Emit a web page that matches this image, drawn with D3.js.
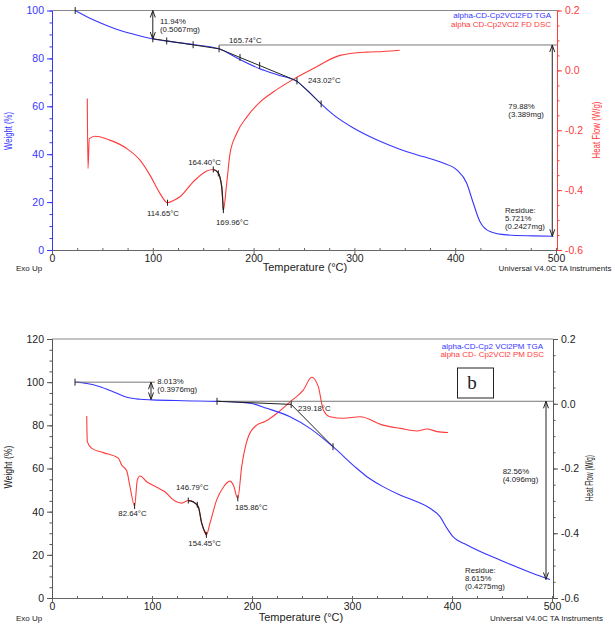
<!DOCTYPE html>
<html><head><meta charset="utf-8">
<script src="https://cdn.jsdelivr.net/npm/d3@7"></script>
<style>body{margin:0;background:#fff}svg{display:block;font-family:"Liberation Sans",Arial,sans-serif}</style>
</head><body><svg id="c" width="615" height="628"></svg>
<script>
// ---------- data ----------
const tempTicks = [0, 100, 200, 300, 400, 500];
const weightTicksA = [0, 20, 40, 60, 80, 100];
const weightTicksB = [0, 20, 40, 60, 80, 100, 120];
const heatTicks = [-0.6, -0.4, -0.2, 0.0, 0.2];

// panel a: alpha-CD-Cp2VCl2 FD
const tgaA_T = [23, 35, 47.6, 64, 81, 99.5, 113.8, 140, 165.7, 186.5, 206, 225, 242.7, 256, 265.9, 279, 299, 322, 345, 368, 388, 401.5, 411.4, 418, 424.6, 434.5, 451, 477.5, 497.5];
const tgaA_W = [100, 97.3, 94.9, 92.2, 90.1, 88.2, 87.2, 85.8, 84.0, 79.5, 75.7, 73.0, 70.4, 65.6, 61.4, 56.5, 50.9, 46.0, 42.1, 39.0, 36.3, 33.5, 27.9, 19.5, 11.8, 7.7, 6.3, 5.9, 5.72];
const dscA_T = [35, 35.7, 37, 42.7, 57.5, 74.1, 87.3, 97.2, 107.1, 114.6, 122, 127, 140.2, 153.5, 160, 164.4, 168.4, 170, 173.3, 176.6, 183.2, 193.2, 206.3, 219.5, 239.4, 259.2, 285.7, 312, 328.7, 345];
const dscA_H = [-0.094, -0.328, -0.228, -0.220, -0.233, -0.261, -0.300, -0.350, -0.411, -0.442, -0.432, -0.422, -0.372, -0.336, -0.331, -0.340, -0.389, -0.467, -0.378, -0.278, -0.211, -0.156, -0.106, -0.072, -0.030, 0.006, 0.050, 0.061, 0.063, 0.067];

// panel b: alpha-CD-Cp2VCl2 PM
const tgaB_T = [23, 35, 48, 61, 75, 88, 100, 131, 165, 198, 214.7, 238, 258, 281, 304.7, 315, 331, 348, 365, 378, 388, 395, 401, 415, 448, 481, 498];
const tgaB_W = [100, 99.4, 97.9, 95.6, 93.0, 92.1, 91.8, 91.4, 91.1, 90.2, 87.9, 84.0, 78.6, 70.1, 60.1, 56.2, 51.6, 47.7, 44.6, 41.6, 37.7, 32.3, 28.4, 24.6, 17.6, 11.4, 8.6];
const dscB_T = [34.7, 35.3, 39.7, 51.3, 66.3, 69.7, 74.7, 78, 82.6, 85.3, 88, 94.7, 104.7, 113, 121.3, 129.7, 136.3, 141.3, 146.3, 149.7, 154.4, 158, 164.7, 171.3, 178, 181.3, 185.8, 189.7, 196.3, 204.7, 213, 224.7, 238, 251.3, 259.7, 266.3, 271.3, 278, 291.3, 308, 331, 348, 365, 375, 385, 396];
const dscB_H = [-0.038, -0.117, -0.138, -0.151, -0.168, -0.189, -0.207, -0.256, -0.316, -0.236, -0.223, -0.241, -0.258, -0.272, -0.297, -0.307, -0.299, -0.303, -0.318, -0.369, -0.405, -0.369, -0.297, -0.258, -0.239, -0.251, -0.292, -0.194, -0.102, -0.066, -0.055, -0.030, 0.006, 0.042, 0.082, 0.053, -0.019, -0.040, -0.045, -0.040, -0.066, -0.076, -0.084, -0.078, -0.086, -0.089];

// annotation labels [T, value of first line, lines]
const tgaLabelsA = [[107.1, 94.3, ["11.94%", "(0.5067mg)"]], [175.6, 86.4, ["165.74°C"]], [253.9, 69.9, ["243.02°C"]],
  [452.7, 59.0, ["79.88%", "(3.389mg)"]], [449.4, 15.6, ["Residue:", "5.721%", "(0.2427mg)"]]];
const dscLabelsA = [[94.2, -0.485, ["114.65°C"]], [135.2, -0.315, ["164.40°C"]], [162.7, -0.517, ["169.96°C"]]];
const tgaLabelsB = [[105.3, 99.3, ["8.013%", "(0.3976mg)"]], [246, 86.6, ["239.18°C"]],
  [450.7, 57.4, ["82.56%", "(4.096mg)"]], [413, 11.8, ["Residue:", "8.615%", "(0.4275mg)"]]];
const dscLabelsB = [[66.3, -0.347, ["82.64°C"]], [124, -0.266, ["146.79°C"]], [136.3, -0.439, ["154.45°C"]], [183, -0.328, ["185.86°C"]]];

const BLUE = "#3636ff", RED = "#ff3b3b", INK = "#222";
const svg = d3.select("#c");
const zip = (a, b) => a.map((v, i) => [v, b[i]]);

function panel(o) {
  const g = svg.append("g");
  const x = d3.scaleLinear().domain([0, 500]).range(o.xr);
  const yW = d3.scaleLinear().domain([0, o.wMax]).range(o.yr);
  const yH = d3.scaleLinear().domain([-0.6, 0.2]).range(o.yr);
  const xR = o.xr[1] + 1;
  g.append("line").attr("x1", x(0)).attr("x2", xR).attr("y1", o.yr[1]).attr("y2", o.yr[1]).attr("stroke", "#888");
  const bx = g.append("g").attr("transform", `translate(0,${o.yr[0]})`);
  bx.call(d3.axisBottom(x).tickValues(tempTicks).tickSizeInner(4).tickSizeOuter(0).tickPadding(1));
  bx.append("g").call(d3.axisBottom(x).tickValues(d3.range(0, 501, 25)).tickSizeInner(-2).tickSizeOuter(0).tickFormat(""));
  bx.selectAll("path,line").attr("stroke", "#666");
  bx.selectAll("text").attr("fill", INK).attr("font-size", 10.5).attr("font-family", "Liberation Sans, Arial");
  const ly = g.append("g").attr("transform", `translate(${x(0)},0)`);
  ly.call(d3.axisLeft(yW).tickValues(o.wTicks).tickSizeInner(5).tickSizeOuter(0).tickPadding(3));
  ly.append("g").call(d3.axisLeft(yW).tickValues(d3.range(0, o.wMax + 1, 5)).tickSizeInner(2.5).tickSizeOuter(0).tickFormat(""));
  ly.selectAll("path,line").attr("stroke", o.lcol);
  ly.selectAll("text").attr("fill", o.ltxt).attr("font-size", 10.5).attr("font-family", "Liberation Sans, Arial");
  const ry = g.append("g").attr("transform", `translate(${xR},0)`);
  ry.call(d3.axisRight(yH).tickValues(heatTicks).tickSizeInner(5).tickSizeOuter(0).tickPadding(3).tickFormat(d => d.toFixed(1)));
  ry.append("g").call(d3.axisRight(yH).tickValues(d3.range(0, 17).map(i => -0.6 + i * 0.05)).tickSizeInner(2.5).tickSizeOuter(0).tickFormat(""));
  ry.selectAll("path,line").attr("stroke", o.rcol);
  ry.selectAll("text").attr("fill", o.rtxt).attr("font-size", 10.5).attr("font-family", "Liberation Sans, Arial");
  g.append("text").attr("x", o.tx).attr("y", o.ty).attr("text-anchor", "middle").attr("font-size", 11).attr("fill", INK).text("Temperature (°C)");
  g.append("text").attr("transform", `translate(${o.wx},${o.wy}) rotate(-90)`).attr("text-anchor", "middle").attr("font-size", 10.5)
    .attr("textLength", o.wLen).attr("lengthAdjust", "spacingAndGlyphs").attr("fill", o.ltxt).text("Weight (%)");
  g.append("text").attr("transform", `translate(${o.hx},${o.hy}) rotate(-90)`).attr("text-anchor", "middle").attr("font-size", 11)
    .attr("textLength", o.hLen).attr("lengthAdjust", "spacingAndGlyphs").attr("fill", o.rtxt).text("Heat Flow (W/g)");
  g.append("text").attr("x", 16).attr("y", o.ty - 0.5).attr("font-size", 8).attr("fill", INK).text("Exo Up");
  g.append("text").attr("x", o.ux).attr("y", o.ty - 0.5).attr("text-anchor", "end").attr("font-size", 8).attr("fill", INK).text("Universal V4.0C TA Instruments");
  return { g, x, yW, yH, xR };
}

function curve(p, xs, ys, yScale, col, w) {
  p.g.append("path").datum(zip(xs, ys)).attr("fill", "none").attr("stroke", col).attr("stroke-width", w || 1)
    .attr("d", d3.line().x(d => p.x(d[0])).y(d => yScale(d[1])).curve(d3.curveMonotoneX));
}
function seg(p, pts, col) {
  p.g.append("path").attr("fill", "none").attr("stroke", col || INK).attr("stroke-width", 1)
    .attr("d", d3.line().x(d => d[0]).y(d => d[1])(pts));
}
function vtick(p, px, py, h) { seg(p, [[px, py - (h || 3.5)], [px, py + (h || 3.5)]]); }
function arrow(p, px, y1, y2) {
  seg(p, [[px, y1], [px, y2]]);
  p.g.append("path").attr("fill", "none").attr("stroke", INK)
    .attr("d", `M${px - 2.5},${y1 + 7}L${px},${y1}L${px + 2.5},${y1 + 7}M${px - 2.5},${y2 - 7}L${px},${y2}L${px + 2.5},${y2 - 7}`);
}
function labels(p, arr, yScale) {
  const t = p.g.selectAll(null).data(arr).enter().append("text").attr("font-size", 7.8).attr("fill", INK);
  t.each(function (d) {
    const el = d3.select(this);
    d[2].forEach((s, i) => el.append("tspan").attr("x", p.x(d[0])).attr("y", yScale(d[1]) + i * 8.3).text(s));
  });
}
function overlay(p, xs, ys, yScale, a, b) {
  const pts = zip(xs, ys).filter(d => d[0] >= a && d[0] <= b);
  p.g.append("path").datum(pts).attr("fill", "none").attr("stroke", INK).attr("stroke-width", 1.2)
    .attr("d", d3.line().x(d => p.x(d[0])).y(d => yScale(d[1])).curve(d3.curveMonotoneX));
}

// ---------- panel a ----------
const A = panel({ xr: [52, 556], yr: [250, 10.5], wMax: 100, wTicks: weightTicksA, lcol: BLUE, ltxt: BLUE, rcol: RED, rtxt: RED,
  tx: 305, ty: 271, wx: 12, wy: 131, wLen: 38, hx: 600, hy: 130, hLen: 57, ux: 611.5 });
curve(A, dscA_T, dscA_H, A.yH, RED, 1.1);
curve(A, tgaA_T, tgaA_W, A.yW, BLUE, 1.1);
arrow(A, A.x(100), A.yW(100), A.yW(88.06));
seg(A, [[A.x(165.74), A.yW(85.6)], [A.xR, A.yW(85.6)]], "#777");
arrow(A, A.x(496.3), A.yW(85.6), A.yW(5.72));
seg(A, [[A.x(100), A.yW(88.2)], [A.x(165.74), A.yW(84.0)], [A.x(243.02), A.yW(70.6)], [A.x(267), A.yW(61)]]);
[[23, 100], [100, 88.2], [113.8, 87.3], [140, 85.7], [165.74, 84.0], [186.5, 80.4], [206, 77.0], [243.02, 70.6], [267, 61]]
  .forEach(d => vtick(A, A.x(d[0]), A.yW(d[1])));
overlay(A, dscA_T, dscA_H, A.yH, 160, 170);
vtick(A, A.x(114.6), A.yH(-0.442), 3);
vtick(A, A.x(160), A.yH(-0.331), 3);
vtick(A, A.x(165), A.yH(-0.344), 3);
vtick(A, A.x(170), A.yH(-0.467), 3);
labels(A, tgaLabelsA, A.yW);
labels(A, dscLabelsA, A.yH);
A.g.append("text").attr("x", 551).attr("y", 18).attr("text-anchor", "end").attr("font-size", 8).attr("fill", BLUE).text("alpha-CD-Cp2VCl2FD TGA");
A.g.append("text").attr("x", 551).attr("y", 26.8).attr("text-anchor", "end").attr("font-size", 8).attr("fill", RED).text("alpha CD-Cp2VCl2 FD DSC");

// ---------- panel b ----------
const B = panel({ xr: [52, 552], yr: [598, 339], wMax: 120, wTicks: weightTicksB, lcol: "#555", ltxt: INK, rcol: "#555", rtxt: INK,
  tx: 301, ty: 621, wx: 12, wy: 467, wLen: 43, hx: 593, hy: 478, hLen: 46, ux: 603 });
curve(B, dscB_T, dscB_H, B.yH, RED, 1.1);
curve(B, tgaB_T, tgaB_W, B.yW, BLUE, 1.1);
seg(B, [[B.x(23), B.yW(100)], [B.x(103), B.yW(100)]], "#777");
vtick(B, B.x(23), B.yW(100));
arrow(B, B.x(99), B.yW(100), B.yW(91.99));
seg(B, [[B.x(165), B.yW(91.15)], [B.xR, B.yW(91.15)]], "#777");
arrow(B, B.x(494), B.yW(91.15), B.yW(8.6));
seg(B, [[B.x(165), B.yW(91.15)], [B.x(239.18), B.yW(89.7)], [B.x(281), B.yW(70.1)]]);
[[165, 91.15], [239.18, 89.7], [281, 70.1]].forEach(d => vtick(B, B.x(d[0]), B.yW(d[1])));
overlay(B, dscB_T, dscB_H, B.yH, 136, 155);
vtick(B, B.x(136.3), B.yH(-0.299), 3);
vtick(B, B.x(145.3), B.yH(-0.312), 3);
vtick(B, B.x(82.6), B.yH(-0.316), 3);
vtick(B, B.x(154.4), B.yH(-0.405), 3);
vtick(B, B.x(185.8), B.yH(-0.292), 3);
labels(B, tgaLabelsB, B.yW);
labels(B, dscLabelsB, B.yH);
B.g.append("text").attr("x", 543).attr("y", 348.5).attr("text-anchor", "end").attr("font-size", 8).attr("fill", BLUE).text("alpha-CD-Cp2 VCl2PM TGA");
B.g.append("text").attr("x", 544).attr("y", 357.3).attr("text-anchor", "end").attr("font-size", 8).attr("fill", RED).text("alpha CD- Cp2VCl2 PM DSC");
B.g.append("rect").attr("x", 457.5).attr("y", 368).attr("width", 36).attr("height", 30).attr("fill", "#fff").attr("stroke", INK);
B.g.append("text").attr("x", 472).attr("y", 389).attr("text-anchor", "middle").attr("font-size", 19)
  .attr("font-family", "Liberation Serif, Times New Roman, serif").attr("fill", INK).text("b");
</script></body></html>
